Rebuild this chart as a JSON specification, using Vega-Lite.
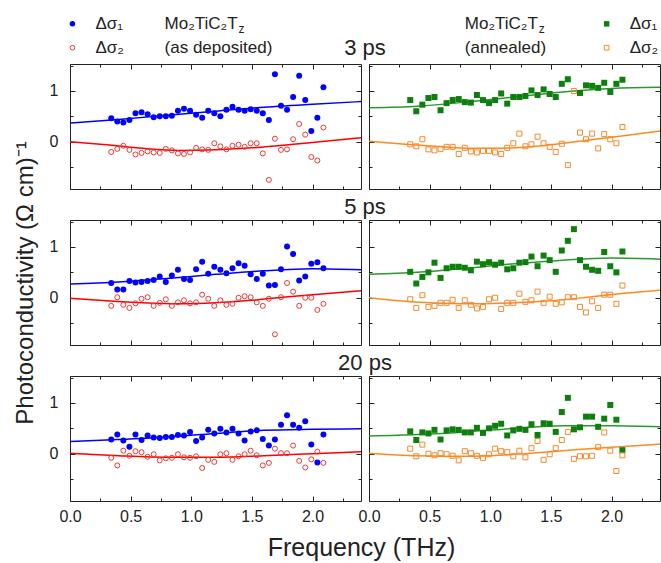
{
"$schema": "https://vega.github.io/schema/vega-lite/v6.json",
"padding": {"left": 12, "top": 14, "right": 0, "bottom": 0},
"autosize": {"type": "pad"},
"bounds": "flush",
"columns": 2,
"spacing": {"row": 31, "column": 8},
"config": {
  "font": "Liberation Sans",
  "view": {"stroke": "#222", "strokeWidth": 1},
  "axis": {"labelFont": "Liberation Sans", "labelFontSize": 16, "labelColor": "#222", "titleFont": "Liberation Sans", "titleFontSize": 24, "titleFontWeight": "normal", "titleColor": "#222", "domain": false, "ticks": false, "gridColor": "#222", "gridOpacity": 1, "gridWidth": 1, "labelFlush": false, "labelBound": false, "labelOverlap": false},
  "text": {"font": "Liberation Sans", "color": "#222"}
},
"datasets": {
  "p3d1": [{"f":0.34,"v":0.46},{"f":0.39,"v":0.40},{"f":0.44,"v":0.38},{"f":0.49,"v":0.43},{"f":0.54,"v":0.56},{"f":0.59,"v":0.58},{"f":0.64,"v":0.54},{"f":0.69,"v":0.48},{"f":0.74,"v":0.50},{"f":0.79,"v":0.50},{"f":0.84,"v":0.51},{"f":0.89,"v":0.61},{"f":0.94,"v":0.65},{"f":0.99,"v":0.61},{"f":1.04,"v":0.53},{"f":1.09,"v":0.47},{"f":1.14,"v":0.61},{"f":1.19,"v":0.56},{"f":1.24,"v":0.50},{"f":1.29,"v":0.63},{"f":1.34,"v":0.69},{"f":1.39,"v":0.63},{"f":1.44,"v":0.61},{"f":1.49,"v":0.64},{"f":1.54,"v":0.61},{"f":1.59,"v":0.56},{"f":1.64,"v":0.43},{"f":1.69,"v":1.33},{"f":1.74,"v":0.71},{"f":1.79,"v":0.63},{"f":1.84,"v":0.88},{"f":1.89,"v":1.30},{"f":1.94,"v":0.82},{"f":1.99,"v":0.21},{"f":2.04,"v":0.47},{"f":2.09,"v":1.07}],
  "p3d2": [{"f":0.34,"v":-0.20},{"f":0.39,"v":-0.14},{"f":0.44,"v":-0.08},{"f":0.49,"v":-0.16},{"f":0.54,"v":-0.25},{"f":0.59,"v":-0.22},{"f":0.64,"v":-0.19},{"f":0.69,"v":-0.21},{"f":0.74,"v":-0.22},{"f":0.79,"v":-0.14},{"f":0.84,"v":-0.17},{"f":0.89,"v":-0.23},{"f":0.94,"v":-0.24},{"f":0.99,"v":-0.21},{"f":1.04,"v":-0.12},{"f":1.09,"v":-0.15},{"f":1.14,"v":-0.16},{"f":1.19,"v":-0.03},{"f":1.24,"v":-0.09},{"f":1.29,"v":-0.15},{"f":1.34,"v":-0.08},{"f":1.39,"v":-0.06},{"f":1.44,"v":-0.10},{"f":1.49,"v":-0.03},{"f":1.54,"v":-0.03},{"f":1.59,"v":-0.23},{"f":1.64,"v":-0.75},{"f":1.69,"v":0.06},{"f":1.74,"v":-0.16},{"f":1.79,"v":-0.15},{"f":1.84,"v":0.05},{"f":1.89,"v":0.35},{"f":1.94,"v":0.14},{"f":1.99,"v":-0.30},{"f":2.04,"v":-0.37},{"f":2.09,"v":0.28}],
  "p3a1": [{"f":0.34,"v":0.82},{"f":0.39,"v":0.60},{"f":0.44,"v":0.73},{"f":0.49,"v":0.86},{"f":0.54,"v":0.88},{"f":0.59,"v":0.62},{"f":0.64,"v":0.76},{"f":0.69,"v":0.82},{"f":0.74,"v":0.84},{"f":0.79,"v":0.78},{"f":0.84,"v":0.77},{"f":0.89,"v":0.92},{"f":0.94,"v":0.82},{"f":0.99,"v":0.76},{"f":1.04,"v":0.82},{"f":1.09,"v":0.95},{"f":1.14,"v":0.75},{"f":1.19,"v":0.88},{"f":1.24,"v":0.88},{"f":1.29,"v":0.90},{"f":1.34,"v":1.01},{"f":1.39,"v":0.92},{"f":1.44,"v":1.03},{"f":1.49,"v":0.94},{"f":1.54,"v":0.88},{"f":1.59,"v":1.14},{"f":1.64,"v":1.23},{"f":1.74,"v":0.96},{"f":1.79,"v":1.11},{"f":1.84,"v":1.10},{"f":1.89,"v":1.06},{"f":1.94,"v":1.16},{"f":1.99,"v":0.98},{"f":2.04,"v":1.14},{"f":2.09,"v":1.22}],
  "p3a2": [{"f":0.34,"v":-0.05},{"f":0.39,"v":-0.09},{"f":0.44,"v":0.05},{"f":0.49,"v":-0.15},{"f":0.54,"v":-0.17},{"f":0.59,"v":-0.14},{"f":0.64,"v":-0.10},{"f":0.69,"v":-0.10},{"f":0.74,"v":-0.24},{"f":0.79,"v":-0.12},{"f":0.84,"v":-0.19},{"f":0.89,"v":-0.21},{"f":0.94,"v":-0.18},{"f":0.99,"v":-0.18},{"f":1.04,"v":-0.21},{"f":1.09,"v":-0.24},{"f":1.14,"v":-0.12},{"f":1.19,"v":-0.03},{"f":1.24,"v":0.16},{"f":1.29,"v":-0.09},{"f":1.34,"v":-0.05},{"f":1.39,"v":0.10},{"f":1.44,"v":-0.03},{"f":1.49,"v":-0.10},{"f":1.54,"v":-0.20},{"f":1.59,"v":-0.04},{"f":1.64,"v":-0.46},{"f":1.69,"v":1.00},{"f":1.74,"v":0.18},{"f":1.79,"v":0.05},{"f":1.84,"v":0.16},{"f":1.89,"v":-0.13},{"f":1.94,"v":0.15},{"f":1.99,"v":0.05},{"f":2.04,"v":-0.03},{"f":2.09,"v":0.29}],
  "p5d1": [{"f":0.34,"v":0.29},{"f":0.39,"v":0.16},{"f":0.44,"v":0.16},{"f":0.49,"v":0.33},{"f":0.54,"v":0.30},{"f":0.59,"v":0.31},{"f":0.64,"v":0.33},{"f":0.69,"v":0.35},{"f":0.74,"v":0.42},{"f":0.79,"v":0.31},{"f":0.84,"v":0.44},{"f":0.89,"v":0.55},{"f":0.94,"v":0.37},{"f":0.99,"v":0.35},{"f":1.04,"v":0.56},{"f":1.09,"v":0.71},{"f":1.14,"v":0.47},{"f":1.19,"v":0.61},{"f":1.24,"v":0.55},{"f":1.29,"v":0.48},{"f":1.34,"v":0.58},{"f":1.39,"v":0.68},{"f":1.44,"v":0.63},{"f":1.49,"v":0.46},{"f":1.54,"v":0.37},{"f":1.59,"v":0.47},{"f":1.64,"v":0.24},{"f":1.69,"v":0.25},{"f":1.74,"v":0.56},{"f":1.79,"v":1.01},{"f":1.84,"v":0.86},{"f":1.89,"v":0.34},{"f":1.94,"v":0.42},{"f":1.99,"v":0.67},{"f":2.04,"v":0.70},{"f":2.09,"v":0.58}],
  "p5d2": [{"f":0.34,"v":-0.16},{"f":0.39,"v":0.01},{"f":0.44,"v":-0.14},{"f":0.49,"v":-0.20},{"f":0.54,"v":-0.11},{"f":0.59,"v":-0.02},{"f":0.64,"v":0.01},{"f":0.69,"v":-0.16},{"f":0.74,"v":-0.10},{"f":0.79,"v":-0.03},{"f":0.84,"v":-0.16},{"f":0.89,"v":-0.09},{"f":0.94,"v":-0.05},{"f":0.99,"v":-0.11},{"f":1.04,"v":-0.09},{"f":1.09,"v":0.06},{"f":1.14,"v":-0.02},{"f":1.19,"v":-0.16},{"f":1.24,"v":-0.05},{"f":1.29,"v":-0.14},{"f":1.34,"v":-0.12},{"f":1.39,"v":0.00},{"f":1.44,"v":0.03},{"f":1.49,"v":0.01},{"f":1.54,"v":-0.09},{"f":1.59,"v":-0.16},{"f":1.64,"v":-0.02},{"f":1.69,"v":-0.72},{"f":1.74,"v":0.01},{"f":1.79,"v":0.29},{"f":1.84,"v":0.12},{"f":1.89,"v":-0.16},{"f":1.94,"v":0.00},{"f":1.99,"v":0.00},{"f":2.04,"v":-0.24},{"f":2.09,"v":-0.12}],
  "p5a1": [{"f":0.34,"v":0.51},{"f":0.39,"v":0.28},{"f":0.44,"v":0.41},{"f":0.49,"v":0.50},{"f":0.54,"v":0.69},{"f":0.59,"v":0.39},{"f":0.64,"v":0.58},{"f":0.69,"v":0.61},{"f":0.74,"v":0.61},{"f":0.79,"v":0.59},{"f":0.84,"v":0.54},{"f":0.89,"v":0.71},{"f":0.94,"v":0.66},{"f":0.99,"v":0.70},{"f":1.04,"v":0.65},{"f":1.09,"v":0.69},{"f":1.14,"v":0.56},{"f":1.19,"v":0.58},{"f":1.24,"v":0.69},{"f":1.29,"v":0.70},{"f":1.34,"v":0.81},{"f":1.39,"v":0.62},{"f":1.44,"v":0.83},{"f":1.49,"v":0.74},{"f":1.54,"v":0.51},{"f":1.59,"v":0.93},{"f":1.64,"v":1.12},{"f":1.69,"v":1.35},{"f":1.74,"v":0.74},{"f":1.79,"v":0.61},{"f":1.84,"v":0.55},{"f":1.89,"v":0.53},{"f":1.94,"v":0.90},{"f":1.99,"v":0.62},{"f":2.04,"v":0.50},{"f":2.09,"v":0.91}],
  "p5a2": [{"f":0.34,"v":-0.03},{"f":0.39,"v":-0.20},{"f":0.44,"v":0.05},{"f":0.49,"v":-0.18},{"f":0.54,"v":-0.16},{"f":0.59,"v":-0.10},{"f":0.64,"v":-0.10},{"f":0.69,"v":-0.04},{"f":0.74,"v":-0.20},{"f":0.79,"v":-0.05},{"f":0.84,"v":-0.14},{"f":0.89,"v":-0.21},{"f":0.94,"v":-0.18},{"f":0.99,"v":-0.03},{"f":1.04,"v":0.00},{"f":1.09,"v":-0.22},{"f":1.14,"v":-0.10},{"f":1.19,"v":-0.10},{"f":1.24,"v":0.08},{"f":1.29,"v":-0.08},{"f":1.34,"v":-0.05},{"f":1.39,"v":0.12},{"f":1.44,"v":-0.10},{"f":1.49,"v":0.02},{"f":1.54,"v":-0.12},{"f":1.59,"v":-0.09},{"f":1.64,"v":0.01},{"f":1.69,"v":0.01},{"f":1.74,"v":-0.18},{"f":1.79,"v":-0.29},{"f":1.84,"v":-0.07},{"f":1.89,"v":-0.20},{"f":1.94,"v":0.06},{"f":1.99,"v":0.06},{"f":2.04,"v":-0.12},{"f":2.09,"v":0.24}],
  "p20d1": [{"f":0.34,"v":0.28},{"f":0.39,"v":0.38},{"f":0.44,"v":0.26},{"f":0.49,"v":0.14},{"f":0.54,"v":0.38},{"f":0.59,"v":0.27},{"f":0.64,"v":0.36},{"f":0.69,"v":0.32},{"f":0.74,"v":0.31},{"f":0.79,"v":0.33},{"f":0.84,"v":0.33},{"f":0.89,"v":0.37},{"f":0.94,"v":0.36},{"f":0.99,"v":0.43},{"f":1.04,"v":0.25},{"f":1.09,"v":0.32},{"f":1.14,"v":0.47},{"f":1.19,"v":0.40},{"f":1.24,"v":0.49},{"f":1.29,"v":0.42},{"f":1.34,"v":0.49},{"f":1.39,"v":0.40},{"f":1.44,"v":0.26},{"f":1.49,"v":0.44},{"f":1.54,"v":0.46},{"f":1.59,"v":0.29},{"f":1.64,"v":0.16},{"f":1.69,"v":0.28},{"f":1.74,"v":0.57},{"f":1.79,"v":0.76},{"f":1.84,"v":0.57},{"f":1.89,"v":0.51},{"f":1.94,"v":0.64},{"f":1.99,"v":0.18},{"f":2.04,"v":-0.17},{"f":2.09,"v":0.38}],
  "p20d2": [{"f":0.34,"v":-0.08},{"f":0.39,"v":-0.23},{"f":0.44,"v":0.06},{"f":0.49,"v":-0.04},{"f":0.54,"v":0.05},{"f":0.59,"v":0.03},{"f":0.64,"v":-0.06},{"f":0.69,"v":-0.01},{"f":0.74,"v":-0.13},{"f":0.79,"v":-0.09},{"f":0.84,"v":-0.08},{"f":0.89,"v":-0.01},{"f":0.94,"v":-0.07},{"f":0.99,"v":-0.08},{"f":1.04,"v":-0.05},{"f":1.09,"v":-0.28},{"f":1.14,"v":-0.12},{"f":1.19,"v":-0.16},{"f":1.24,"v":-0.01},{"f":1.29,"v":0.01},{"f":1.34,"v":-0.12},{"f":1.39,"v":-0.05},{"f":1.44,"v":-0.01},{"f":1.49,"v":0.06},{"f":1.54,"v":-0.03},{"f":1.59,"v":-0.23},{"f":1.64,"v":-0.18},{"f":1.69,"v":0.10},{"f":1.74,"v":0.01},{"f":1.79,"v":0.01},{"f":1.84,"v":0.16},{"f":1.89,"v":-0.14},{"f":1.94,"v":-0.27},{"f":1.99,"v":-0.11},{"f":2.04,"v":0.04},{"f":2.09,"v":-0.18}],
  "p20a1": [{"f":0.34,"v":0.44},{"f":0.39,"v":0.27},{"f":0.44,"v":0.42},{"f":0.49,"v":0.40},{"f":0.54,"v":0.47},{"f":0.59,"v":0.28},{"f":0.64,"v":0.46},{"f":0.69,"v":0.48},{"f":0.74,"v":0.47},{"f":0.79,"v":0.42},{"f":0.84,"v":0.42},{"f":0.89,"v":0.51},{"f":0.94,"v":0.41},{"f":0.99,"v":0.50},{"f":1.04,"v":0.55},{"f":1.09,"v":0.59},{"f":1.14,"v":0.36},{"f":1.19,"v":0.46},{"f":1.24,"v":0.49},{"f":1.29,"v":0.47},{"f":1.34,"v":0.58},{"f":1.39,"v":0.37},{"f":1.44,"v":0.60},{"f":1.49,"v":0.59},{"f":1.54,"v":0.43},{"f":1.59,"v":0.82},{"f":1.64,"v":1.10},{"f":1.69,"v":0.48},{"f":1.74,"v":0.52},{"f":1.79,"v":0.73},{"f":1.84,"v":0.73},{"f":1.89,"v":0.53},{"f":1.94,"v":0.69},{"f":1.99,"v":0.96},{"f":2.04,"v":0.67},{"f":2.09,"v":0.07}],
  "p20a2": [{"f":0.34,"v":0.10},{"f":0.39,"v":-0.05},{"f":0.44,"v":0.18},{"f":0.49,"v":0.00},{"f":0.54,"v":-0.03},{"f":0.59,"v":0.01},{"f":0.64,"v":-0.01},{"f":0.69,"v":-0.04},{"f":0.74,"v":-0.13},{"f":0.79,"v":0.05},{"f":0.84,"v":0.01},{"f":0.89,"v":-0.04},{"f":0.94,"v":-0.08},{"f":0.99,"v":-0.01},{"f":1.04,"v":0.10},{"f":1.09,"v":0.05},{"f":1.14,"v":0.03},{"f":1.19,"v":-0.05},{"f":1.24,"v":0.06},{"f":1.29,"v":-0.07},{"f":1.34,"v":0.11},{"f":1.39,"v":0.25},{"f":1.44,"v":-0.12},{"f":1.49,"v":-0.01},{"f":1.54,"v":0.11},{"f":1.59,"v":0.27},{"f":1.64,"v":0.43},{"f":1.69,"v":-0.10},{"f":1.74,"v":-0.05},{"f":1.79,"v":-0.05},{"f":1.84,"v":-0.04},{"f":1.89,"v":0.13},{"f":1.94,"v":0.42},{"f":1.99,"v":0.06},{"f":2.04,"v":-0.34},{"f":2.09,"v":-0.03}],
  "f3d1": [{"f":0,"v":0.37},{"f":0.4,"v":0.44},{"f":0.8,"v":0.52},{"f":1.2,"v":0.60},{"f":1.6,"v":0.68},{"f":2.0,"v":0.74},{"f":2.4,"v":0.79}],
  "f3d2": [{"f":0,"v":0.0},{"f":0.3,"v":-0.06},{"f":0.6,"v":-0.13},{"f":0.9,"v":-0.17},{"f":1.2,"v":-0.16},{"f":1.5,"v":-0.12},{"f":1.8,"v":-0.06},{"f":2.1,"v":0.01},{"f":2.4,"v":0.08}],
  "f3a1": [{"f":0,"v":0.67},{"f":0.4,"v":0.70},{"f":0.8,"v":0.78},{"f":1.2,"v":0.88},{"f":1.6,"v":0.98},{"f":2.0,"v":1.05},{"f":2.4,"v":1.07}],
  "f3a2": [{"f":0,"v":0.01},{"f":0.3,"v":-0.05},{"f":0.6,"v":-0.10},{"f":0.9,"v":-0.13},{"f":1.2,"v":-0.12},{"f":1.5,"v":-0.06},{"f":1.8,"v":0.03},{"f":2.1,"v":0.12},{"f":2.4,"v":0.21}],
  "f5d1": [{"f":0,"v":0.27},{"f":0.4,"v":0.31},{"f":0.8,"v":0.38},{"f":1.2,"v":0.46},{"f":1.6,"v":0.53},{"f":2.0,"v":0.57},{"f":2.4,"v":0.55}],
  "f5d2": [{"f":0,"v":-0.01},{"f":0.3,"v":-0.06},{"f":0.6,"v":-0.10},{"f":0.9,"v":-0.12},{"f":1.2,"v":-0.10},{"f":1.5,"v":-0.05},{"f":1.8,"v":0.02},{"f":2.1,"v":0.08},{"f":2.4,"v":0.14}],
  "f5a1": [{"f":0,"v":0.46},{"f":0.4,"v":0.50},{"f":0.8,"v":0.58},{"f":1.2,"v":0.67},{"f":1.6,"v":0.74},{"f":2.0,"v":0.78},{"f":2.4,"v":0.76}],
  "f5a2": [{"f":0,"v":0.0},{"f":0.3,"v":-0.07},{"f":0.6,"v":-0.11},{"f":0.9,"v":-0.12},{"f":1.2,"v":-0.10},{"f":1.5,"v":-0.06},{"f":1.8,"v":0.01},{"f":2.1,"v":0.09},{"f":2.4,"v":0.15}],
  "f20d1": [{"f":0,"v":0.24},{"f":0.4,"v":0.28},{"f":0.8,"v":0.33},{"f":1.2,"v":0.40},{"f":1.6,"v":0.46},{"f":2.0,"v":0.48},{"f":2.4,"v":0.49}],
  "f20d2": [{"f":0,"v":0.01},{"f":0.4,"v":-0.04},{"f":0.8,"v":-0.07},{"f":1.2,"v":-0.07},{"f":1.6,"v":-0.04},{"f":2.0,"v":0.0},{"f":2.4,"v":0.04}],
  "f20a1": [{"f":0,"v":0.35},{"f":0.4,"v":0.38},{"f":0.8,"v":0.43},{"f":1.2,"v":0.50},{"f":1.6,"v":0.55},{"f":2.0,"v":0.55},{"f":2.4,"v":0.53}],
  "f20a2": [{"f":0,"v":0.01},{"f":0.4,"v":-0.04},{"f":0.8,"v":-0.05},{"f":1.2,"v":-0.01},{"f":1.6,"v":0.06},{"f":2.0,"v":0.13},{"f":2.4,"v":0.19}]
},
"concat": [
 {"width": 291, "height": 125, "layer": [
  {"encoding": {"x": {"field": "f", "type": "quantitative", "scale": {"domain": [0, 2.4]}, "axis": {"values": [0,0.25,0.5,0.75,1,1.25,1.5,1.75,2,2.25], "grid": true, "gridDash": {"condition": {"test": "abs(datum.value*2-round(datum.value*2))<0.01", "value": [5,115,5]}, "value": [3,119,3]}, "labels": false, "title": null}},
                "y": {"field": "v", "type": "quantitative", "scale": {"domain": [-0.93, 1.53]}, "axis": {"values": [-0.5,0,0.5,1,1.5], "grid": true, "gridDash": {"condition": {"test": "datum.value==0||datum.value==1", "value": [5,281,5]}, "value": [3,285,3]}, "labelExpr": "(datum.value==0||datum.value==1) ? format(datum.value,'d') : ''", "labelPadding": 12, "title": null}}},
   "layer": [
    {"data": {"name": "f3d1"}, "mark": {"type": "line", "color": "#0000ff", "strokeWidth": 1.5, "interpolate": "monotone"}},
    {"data": {"name": "f3d2"}, "mark": {"type": "line", "color": "#ff0000", "strokeWidth": 1.5, "interpolate": "monotone"}},
    {"data": {"name": "p3d1"}, "mark": {"type": "point", "shape": "circle", "filled": true, "color": "#0000ff", "size": 36, "opacity": 1}},
    {"data": {"name": "p3d2"}, "mark": {"type": "point", "shape": "circle", "filled": false, "color": "#e53935", "size": 25, "strokeWidth": 1, "opacity": 1}}
   ]},
  {"encoding": {"x": {"datum": 2.4, "type": "quantitative", "scale": {"domain": [0, 2.4]}, "axis": {"values": [0,0.25,0.5,0.75,1,1.25,1.5,1.75,2,2.25], "grid": true, "gridDash": {"condition": {"test": "abs(datum.value*2-round(datum.value*2))<0.01", "value": [5,115,5]}, "value": [3,119,3]}, "labels": false, "title": null}},
                "y": {"datum": 2.32, "type": "quantitative", "scale": {"domain": [-0.93, 1.53]}, "axis": {"values": [-0.5,0,0.5,1,1.5], "grid": true, "gridDash": {"condition": {"test": "datum.value==0||datum.value==1", "value": [5,281,5]}, "value": [3,285,3]}, "labelExpr": "(datum.value==0||datum.value==1) ? format(datum.value,'d') : ''", "labelPadding": 12, "title": null}}},
   "layer": [
    {"data": {"values": [{"t": "3 ps"}]}, "mark": {"type": "text", "align": "center", "baseline": "middle", "fontSize": 22, "dx": 4},
     "encoding": {"y": {"datum": 1.85, "type": "quantitative"}, "text": {"field": "t"}}},
    {"data": {"values": [{"t": "Δσ₁"}]}, "mark": {"type": "point", "shape": "circle", "filled": true, "color": "#0000ff", "size": 30, "opacity": 1},
     "encoding": {"x": {"datum": 0.02, "type": "quantitative"}}},
    {"data": {"values": [{"t": "Δσ₂"}]}, "mark": {"type": "point", "shape": "circle", "filled": false, "color": "#e53935", "size": 22, "strokeWidth": 1, "opacity": 1},
     "encoding": {"x": {"datum": 0.02, "type": "quantitative"}, "y": {"datum": 1.85, "type": "quantitative"}}},
    {"data": {"values": [{"t": "Δσ₁"}]}, "mark": {"type": "text", "align": "left", "baseline": "middle", "fontSize": 17},
     "encoding": {"x": {"datum": 0.21, "type": "quantitative"}, "text": {"field": "t"}}},
    {"data": {"values": [{"t": "Δσ₂"}]}, "mark": {"type": "text", "align": "left", "baseline": "middle", "fontSize": 17},
     "encoding": {"x": {"datum": 0.21, "type": "quantitative"}, "y": {"datum": 1.85, "type": "quantitative"}, "text": {"field": "t"}}},
    {"data": {"values": [{"t": "Mo₂TiC₂T"}]}, "mark": {"type": "text", "align": "left", "baseline": "middle", "fontSize": 17},
     "encoding": {"x": {"datum": 0.78, "type": "quantitative"}, "text": {"field": "t"}}},
    {"data": {"values": [{"t": "z"}]}, "mark": {"type": "text", "align": "left", "baseline": "middle", "fontSize": 12, "dy": 5},
     "encoding": {"x": {"datum": 1.39, "type": "quantitative"}, "text": {"field": "t"}}},
    {"data": {"values": [{"t": "(as deposited)"}]}, "mark": {"type": "text", "align": "left", "baseline": "middle", "fontSize": 17},
     "encoding": {"x": {"datum": 0.78, "type": "quantitative"}, "y": {"datum": 1.85, "type": "quantitative"}, "text": {"field": "t"}}}
   ]}
 ]},
 {"width": 291, "height": 125, "layer": [
  {"encoding": {"x": {"field": "f", "type": "quantitative", "scale": {"domain": [0, 2.4]}, "axis": {"values": [0,0.25,0.5,0.75,1,1.25,1.5,1.75,2,2.25], "grid": true, "gridDash": {"condition": {"test": "abs(datum.value*2-round(datum.value*2))<0.01", "value": [5,115,5]}, "value": [3,119,3]}, "labels": false, "title": null}},
                "y": {"field": "v", "type": "quantitative", "scale": {"domain": [-0.93, 1.53]}, "axis": {"values": [-0.5,0,0.5,1,1.5], "grid": true, "gridDash": {"condition": {"test": "datum.value==0||datum.value==1", "value": [5,281,5]}, "value": [3,285,3]}, "labels": false, "title": null}}},
   "layer": [
    {"data": {"name": "f3a1"}, "mark": {"type": "line", "color": "#2e962e", "strokeWidth": 1.5, "interpolate": "monotone"}},
    {"data": {"name": "f3a2"}, "mark": {"type": "line", "color": "#ff8a1c", "strokeWidth": 1.5, "interpolate": "monotone"}},
    {"data": {"name": "p3a1"}, "mark": {"type": "point", "shape": "square", "filled": true, "color": "#0c7f0c", "size": 36, "opacity": 1}},
    {"data": {"name": "p3a2"}, "mark": {"type": "point", "shape": "square", "filled": false, "color": "#f28a2e", "size": 25, "strokeWidth": 1, "opacity": 1}}
   ]},
  {"encoding": {"x": {"datum": 0.79, "type": "quantitative", "scale": {"domain": [0, 2.4]}, "axis": {"values": [0,0.25,0.5,0.75,1,1.25,1.5,1.75,2,2.25], "grid": true, "gridDash": {"condition": {"test": "abs(datum.value*2-round(datum.value*2))<0.01", "value": [5,115,5]}, "value": [3,119,3]}, "labels": false, "title": null}},
                "y": {"datum": 2.32, "type": "quantitative", "scale": {"domain": [-0.93, 1.53]}, "axis": {"values": [-0.5,0,0.5,1,1.5], "grid": true, "gridDash": {"condition": {"test": "datum.value==0||datum.value==1", "value": [5,281,5]}, "value": [3,285,3]}, "labels": false, "title": null}}},
   "layer": [
    {"data": {"values": [{"t": "Mo₂TiC₂T"}]}, "mark": {"type": "text", "align": "left", "baseline": "middle", "fontSize": 17},
     "encoding": {"text": {"field": "t"}}},
    {"data": {"values": [{"t": "z"}]}, "mark": {"type": "text", "align": "left", "baseline": "middle", "fontSize": 12, "dy": 5},
     "encoding": {"x": {"datum": 1.40, "type": "quantitative"}, "text": {"field": "t"}}},
    {"data": {"values": [{"t": "(annealed)"}]}, "mark": {"type": "text", "align": "left", "baseline": "middle", "fontSize": 17},
     "encoding": {"y": {"datum": 1.85, "type": "quantitative"}, "text": {"field": "t"}}},
    {"data": {"values": [{"t": "Δσ₁"}]}, "mark": {"type": "point", "shape": "square", "filled": true, "color": "#0c7f0c", "size": 30, "opacity": 1},
     "encoding": {"x": {"datum": 1.96, "type": "quantitative"}}},
    {"data": {"values": [{"t": "Δσ₂"}]}, "mark": {"type": "point", "shape": "square", "filled": false, "color": "#f28a2e", "size": 22, "strokeWidth": 1, "opacity": 1},
     "encoding": {"x": {"datum": 1.96, "type": "quantitative"}, "y": {"datum": 1.85, "type": "quantitative"}}},
    {"data": {"values": [{"t": "Δσ₁"}]}, "mark": {"type": "text", "align": "left", "baseline": "middle", "fontSize": 17},
     "encoding": {"x": {"datum": 2.15, "type": "quantitative"}, "text": {"field": "t"}}},
    {"data": {"values": [{"t": "Δσ₂"}]}, "mark": {"type": "text", "align": "left", "baseline": "middle", "fontSize": 17},
     "encoding": {"x": {"datum": 2.15, "type": "quantitative"}, "y": {"datum": 1.85, "type": "quantitative"}, "text": {"field": "t"}}}
   ]}
 ]},
 {"width": 291, "height": 125, "layer": [
  {"encoding": {"x": {"field": "f", "type": "quantitative", "scale": {"domain": [0, 2.4]}, "axis": {"values": [0,0.25,0.5,0.75,1,1.25,1.5,1.75,2,2.25], "grid": true, "gridDash": {"condition": {"test": "abs(datum.value*2-round(datum.value*2))<0.01", "value": [5,115,5]}, "value": [3,119,3]}, "labels": false, "title": null}},
                "y": {"field": "v", "type": "quantitative", "scale": {"domain": [-0.93, 1.53]}, "axis": {"values": [-0.5,0,0.5,1,1.5], "grid": true, "gridDash": {"condition": {"test": "datum.value==0||datum.value==1", "value": [5,281,5]}, "value": [3,285,3]}, "labelExpr": "(datum.value==0||datum.value==1) ? format(datum.value,'d') : ''", "labelPadding": 12, "title": "Photoconductivity (Ω cm)⁻¹", "titlePadding": 12}}},
   "layer": [
    {"data": {"name": "f5d1"}, "mark": {"type": "line", "color": "#0000ff", "strokeWidth": 1.5, "interpolate": "monotone"}},
    {"data": {"name": "f5d2"}, "mark": {"type": "line", "color": "#ff0000", "strokeWidth": 1.5, "interpolate": "monotone"}},
    {"data": {"name": "p5d1"}, "mark": {"type": "point", "shape": "circle", "filled": true, "color": "#0000ff", "size": 36, "opacity": 1}},
    {"data": {"name": "p5d2"}, "mark": {"type": "point", "shape": "circle", "filled": false, "color": "#e53935", "size": 25, "strokeWidth": 1, "opacity": 1}}
   ]},
  {"data": {"values": [{"t": "5 ps"}]}, "mark": {"type": "text", "align": "center", "baseline": "middle", "fontSize": 22, "dx": 4},
   "encoding": {"x": {"datum": 2.4, "type": "quantitative", "scale": {"domain": [0, 2.4]}, "axis": {"values": [0,0.25,0.5,0.75,1,1.25,1.5,1.75,2,2.25], "grid": true, "gridDash": {"condition": {"test": "abs(datum.value*2-round(datum.value*2))<0.01", "value": [5,115,5]}, "value": [3,119,3]}, "labels": false, "title": null}},
                "y": {"datum": 1.79, "type": "quantitative", "scale": {"domain": [-0.93, 1.53]}, "axis": {"values": [-0.5,0,0.5,1,1.5], "grid": true, "gridDash": {"condition": {"test": "datum.value==0||datum.value==1", "value": [5,281,5]}, "value": [3,285,3]}, "labelExpr": "(datum.value==0||datum.value==1) ? format(datum.value,'d') : ''", "labelPadding": 12, "title": "Photoconductivity (Ω cm)⁻¹", "titlePadding": 12}},
                "text": {"field": "t"}}}
 ]},
 {"width": 291, "height": 125,
  "encoding": {"x": {"field": "f", "type": "quantitative", "scale": {"domain": [0, 2.4]}, "axis": {"values": [0,0.25,0.5,0.75,1,1.25,1.5,1.75,2,2.25], "grid": true, "gridDash": {"condition": {"test": "abs(datum.value*2-round(datum.value*2))<0.01", "value": [5,115,5]}, "value": [3,119,3]}, "labels": false, "title": null}},
               "y": {"field": "v", "type": "quantitative", "scale": {"domain": [-0.93, 1.53]}, "axis": {"values": [-0.5,0,0.5,1,1.5], "grid": true, "gridDash": {"condition": {"test": "datum.value==0||datum.value==1", "value": [5,281,5]}, "value": [3,285,3]}, "labels": false, "title": null}}},
  "layer": [
  {"data": {"name": "f5a1"}, "mark": {"type": "line", "color": "#2e962e", "strokeWidth": 1.5, "interpolate": "monotone"}},
  {"data": {"name": "f5a2"}, "mark": {"type": "line", "color": "#ff8a1c", "strokeWidth": 1.5, "interpolate": "monotone"}},
  {"data": {"name": "p5a1"}, "mark": {"type": "point", "shape": "square", "filled": true, "color": "#0c7f0c", "size": 36, "opacity": 1}},
  {"data": {"name": "p5a2"}, "mark": {"type": "point", "shape": "square", "filled": false, "color": "#f28a2e", "size": 25, "strokeWidth": 1, "opacity": 1}}
 ]},
 {"width": 291, "height": 125, "layer": [
  {"encoding": {"x": {"field": "f", "type": "quantitative", "scale": {"domain": [0, 2.4]}, "axis": {"values": [0,0.25,0.5,0.75,1,1.25,1.5,1.75,2,2.25], "grid": true, "gridDash": {"condition": {"test": "abs(datum.value*2-round(datum.value*2))<0.01", "value": [5,115,5]}, "value": [3,119,3]}, "labelExpr": "abs(datum.value*2-round(datum.value*2))<0.01 ? format(datum.value,'.1f') : ''", "labelPadding": 7, "title": "Frequency (THz)", "titleFontSize": 25, "titleAnchor": "end", "titleAlign": "center", "titlePadding": 11}},
                "y": {"field": "v", "type": "quantitative", "scale": {"domain": [-0.93, 1.53]}, "axis": {"values": [-0.5,0,0.5,1,1.5], "grid": true, "gridDash": {"condition": {"test": "datum.value==0||datum.value==1", "value": [5,281,5]}, "value": [3,285,3]}, "labelExpr": "(datum.value==0||datum.value==1) ? format(datum.value,'d') : ''", "labelPadding": 12, "title": null}}},
   "layer": [
    {"data": {"name": "f20d1"}, "mark": {"type": "line", "color": "#0000ff", "strokeWidth": 1.5, "interpolate": "monotone"}},
    {"data": {"name": "f20d2"}, "mark": {"type": "line", "color": "#ff0000", "strokeWidth": 1.5, "interpolate": "monotone"}},
    {"data": {"name": "p20d1"}, "mark": {"type": "point", "shape": "circle", "filled": true, "color": "#0000ff", "size": 36, "opacity": 1}},
    {"data": {"name": "p20d2"}, "mark": {"type": "point", "shape": "circle", "filled": false, "color": "#e53935", "size": 25, "strokeWidth": 1, "opacity": 1}}
   ]},
  {"data": {"values": [{"t": "20 ps"}]}, "mark": {"type": "text", "align": "center", "baseline": "middle", "fontSize": 22, "dx": 4},
   "encoding": {"x": {"datum": 2.4, "type": "quantitative", "scale": {"domain": [0, 2.4]}, "axis": {"values": [0,0.25,0.5,0.75,1,1.25,1.5,1.75,2,2.25], "grid": true, "gridDash": {"condition": {"test": "abs(datum.value*2-round(datum.value*2))<0.01", "value": [5,115,5]}, "value": [3,119,3]}, "labelExpr": "abs(datum.value*2-round(datum.value*2))<0.01 ? format(datum.value,'.1f') : ''", "labelPadding": 7, "title": "Frequency (THz)", "titleFontSize": 25, "titleAnchor": "end", "titleAlign": "center", "titlePadding": 11}},
                "y": {"datum": 1.79, "type": "quantitative", "scale": {"domain": [-0.93, 1.53]}, "axis": {"values": [-0.5,0,0.5,1,1.5], "grid": true, "gridDash": {"condition": {"test": "datum.value==0||datum.value==1", "value": [5,281,5]}, "value": [3,285,3]}, "labelExpr": "(datum.value==0||datum.value==1) ? format(datum.value,'d') : ''", "labelPadding": 12, "title": null}},
                "text": {"field": "t"}}}
 ]},
 {"width": 291, "height": 125,
  "encoding": {"x": {"field": "f", "type": "quantitative", "scale": {"domain": [0, 2.4]}, "axis": {"values": [0,0.25,0.5,0.75,1,1.25,1.5,1.75,2,2.25], "grid": true, "gridDash": {"condition": {"test": "abs(datum.value*2-round(datum.value*2))<0.01", "value": [5,115,5]}, "value": [3,119,3]}, "labelExpr": "abs(datum.value*2-round(datum.value*2))<0.01 ? format(datum.value,'.1f') : ''", "labelPadding": 7, "title": null}},
               "y": {"field": "v", "type": "quantitative", "scale": {"domain": [-0.93, 1.53]}, "axis": {"values": [-0.5,0,0.5,1,1.5], "grid": true, "gridDash": {"condition": {"test": "datum.value==0||datum.value==1", "value": [5,281,5]}, "value": [3,285,3]}, "labels": false, "title": null}}},
  "layer": [
  {"data": {"name": "f20a1"}, "mark": {"type": "line", "color": "#2e962e", "strokeWidth": 1.5, "interpolate": "monotone"}},
  {"data": {"name": "f20a2"}, "mark": {"type": "line", "color": "#ff8a1c", "strokeWidth": 1.5, "interpolate": "monotone"}},
  {"data": {"name": "p20a1"}, "mark": {"type": "point", "shape": "square", "filled": true, "color": "#0c7f0c", "size": 36, "opacity": 1}},
  {"data": {"name": "p20a2"}, "mark": {"type": "point", "shape": "square", "filled": false, "color": "#f28a2e", "size": 25, "strokeWidth": 1, "opacity": 1}}
 ]}
]
}
